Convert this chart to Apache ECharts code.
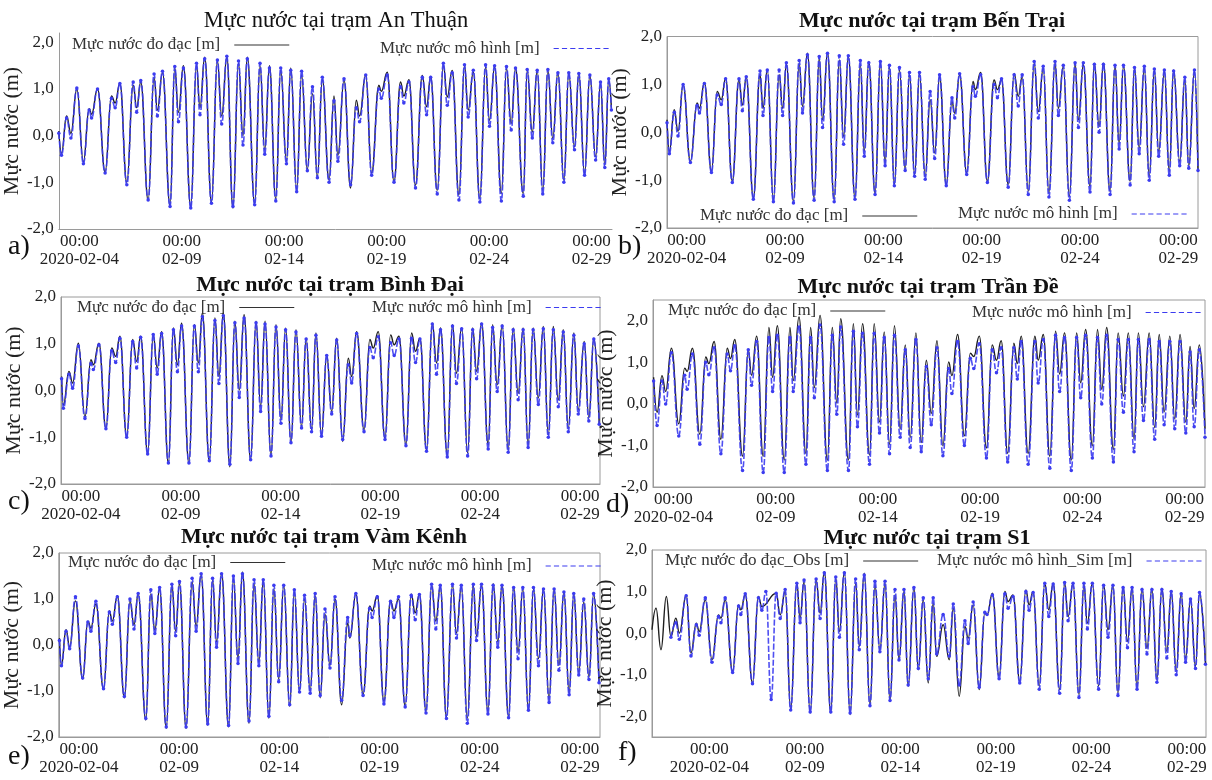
<!DOCTYPE html>
<html><head><meta charset="utf-8">
<script src="https://cdn.jsdelivr.net/npm/echarts@6/dist/echarts.min.js"></script>
<style>html,body{margin:0;padding:0;background:#fff}#c{width:1212px;height:780px}</style>
</head><body><div id="c"></div>
<script>
// ---------- DATA (time = decimal day of February 2020; values in m) ----------
const xTickDays = [4, 9, 14, 19, 24, 29];
const xTickLabels = ['00:00\n2020-02-04', '00:00\n02-09', '00:00\n02-14', '00:00\n02-19', '00:00\n02-24', '00:00\n02-29'];
const yTickValues = [-2, -1, 0, 1, 2];

// a) An Thuận
const aTime = [3.0,3.13,3.38,3.59,3.88,4.2,4.48,4.6,4.89,5.26,5.57,5.75,5.98,6.32,6.63,6.8,7.0,7.36,7.65,7.81,8.06,8.43,8.66,8.84,9.08,9.44,9.72,9.89,10.12,10.45,10.74,10.95,11.2,11.5,11.77,11.99,12.2,12.56,12.82,13.05,13.28,13.59,13.83,14.11,14.32,14.61,14.85,15.13,15.38,15.62,15.86,16.19,16.43,16.62,16.92,17.24,17.52,17.68,17.98,18.27,18.62,18.74,19.03,19.36,19.68,19.84,20.09,20.41,20.74,20.95,21.15,21.47,21.77,21.96,22.2,22.53,22.8,22.98,23.23,23.55,23.83,24.02,24.27,24.6,24.85,25.08,25.29,25.67,25.86,26.11,26.35,26.62,26.87,27.11,27.36,27.65,27.89,28.17,28.38,28.66,28.92,29.2,29.44,29.65,29.84,29.97];
const aObs = [0.1,-0.38,0.42,0.05,1.0,-0.56,0.58,0.46,1.0,-0.78,0.85,0.7,1.12,-1.0,1.08,0.6,1.15,-1.38,1.25,0.55,1.35,-1.5,1.45,0.5,1.5,-1.52,1.5,0.6,1.68,-1.42,1.6,0.42,1.68,-1.55,1.55,0.0,1.68,-1.45,1.5,-0.3,1.5,-1.35,1.4,-0.55,1.45,-1.15,1.3,-0.72,0.9,-0.88,1.2,-0.95,0.85,-0.42,1.19,-1.12,0.76,0.42,1.3,-0.8,1.08,0.95,1.36,-0.98,1.15,0.85,1.2,-1.06,1.29,0.62,1.27,-1.17,1.5,0.83,1.4,-1.27,1.5,0.55,1.36,-1.34,1.47,0.33,1.47,-1.24,1.44,0.26,1.44,-1.24,1.4,0.08,1.39,-1.17,1.39,-0.06,1.36,-0.95,1.33,-0.24,1.35,-0.81,1.29,-0.45,1.11,-0.63,1.2,0.6];
const aSim = [0.05,-0.42,0.38,-0.05,1.02,-0.6,0.55,0.38,1.0,-0.8,0.8,0.6,1.12,-1.05,1.15,0.5,1.18,-1.38,1.32,0.42,1.38,-1.52,1.48,0.3,1.45,-1.55,1.55,0.45,1.65,-1.45,1.62,0.25,1.7,-1.52,1.6,-0.2,1.65,-1.48,1.55,-0.4,1.45,-1.4,1.45,-0.6,1.4,-1.2,1.38,-0.75,1.05,-0.9,1.25,-1.0,0.75,-0.55,1.22,-1.05,0.6,0.3,1.3,-0.85,1.0,0.8,1.3,-1.0,1.05,0.7,1.15,-1.12,1.25,0.45,1.25,-1.25,1.55,0.65,1.35,-1.38,1.52,0.4,1.4,-1.42,1.52,0.2,1.5,-1.4,1.48,0.12,1.45,-1.3,1.42,-0.05,1.4,-1.25,1.42,-0.15,1.35,-1.0,1.35,-0.3,1.33,-0.85,1.3,-0.52,1.15,-0.68,1.22,0.55];

// b) Bến Trại
const bTime = [3.0,3.12,3.37,3.56,3.82,4.19,4.53,4.65,4.9,5.26,5.55,5.76,5.98,6.32,6.66,6.83,7.03,7.39,7.73,7.88,8.1,8.41,8.7,8.88,9.07,9.43,9.72,9.89,10.14,10.48,10.74,10.91,11.16,11.5,11.76,11.98,12.22,12.56,12.83,13.03,13.26,13.58,13.85,14.09,14.31,14.56,14.82,15.11,15.33,15.59,15.84,16.13,16.38,16.61,16.86,17.2,17.49,17.63,17.88,18.24,18.56,18.68,18.95,19.29,19.63,19.8,20.01,20.35,20.65,20.86,21.06,21.37,21.67,21.88,22.13,22.42,22.73,22.9,23.15,23.46,23.75,23.92,24.17,24.51,24.73,24.97,25.19,25.53,25.78,25.99,26.21,26.55,26.77,27.01,27.27,27.52,27.78,28.0,28.29,28.54,28.76,29.07,29.33,29.53,29.82,30.0];
const bObs = [0.26,-0.4,0.47,0.02,0.99,-0.61,0.61,0.5,1.04,-0.82,0.85,0.68,1.13,-1.02,1.09,0.57,1.15,-1.37,1.2,0.5,1.3,-1.41,1.2,0.5,1.41,-1.44,1.44,0.54,1.65,-1.37,1.55,0.26,1.66,-1.41,1.51,-0.09,1.58,-1.37,1.41,-0.4,1.48,-1.27,1.44,-0.64,1.37,-1.09,1.3,-0.78,1.2,-0.89,1.23,-0.92,0.68,-0.43,1.16,-1.09,0.64,0.4,1.2,-0.85,1.06,0.89,1.25,-1.02,1.09,0.89,1.09,-1.09,1.23,0.75,1.16,-1.23,1.44,0.43,1.34,-1.27,1.44,0.5,1.37,-1.34,1.44,0.26,1.41,-1.13,1.44,0.12,1.44,-1.23,1.41,-0.23,1.37,-1.02,1.34,-0.33,1.34,-0.92,1.3,-0.4,1.27,-0.82,1.3,-0.61,1.09,-0.71,1.27,-0.78];
const bSim = [0.2,-0.45,0.42,-0.08,1.0,-0.63,0.56,0.4,1.02,-0.84,0.78,0.58,1.12,-1.05,1.12,0.45,1.16,-1.4,1.28,0.35,1.3,-1.45,1.3,0.35,1.45,-1.48,1.5,0.4,1.62,-1.42,1.58,0.1,1.65,-1.45,1.6,-0.25,1.6,-1.4,1.5,-0.5,1.45,-1.3,1.48,-0.7,1.4,-1.12,1.35,-0.8,1.25,-0.92,1.25,-0.98,0.85,-0.55,1.2,-1.12,0.72,0.3,1.22,-0.88,0.95,0.75,1.2,-1.05,1.0,0.72,1.12,-1.15,1.2,0.55,1.2,-1.3,1.48,0.3,1.38,-1.35,1.48,0.35,1.4,-1.42,1.45,0.1,1.45,-1.25,1.42,0.0,1.42,-1.3,1.4,-0.35,1.4,-1.1,1.35,-0.45,1.38,-1.0,1.32,-0.5,1.3,-0.9,1.28,-0.7,1.15,-0.75,1.3,-0.8];

// c) Bình Đại
const cTime = [3.03,3.12,3.4,3.58,3.87,4.2,4.5,4.62,4.9,5.25,5.54,5.74,5.95,6.29,6.59,6.79,6.99,7.34,7.62,7.82,8.04,8.38,8.63,8.83,9.04,9.41,9.68,9.88,10.08,10.43,10.71,10.91,11.13,11.46,11.71,11.93,12.17,12.5,12.77,13.0,13.22,13.52,13.77,14.02,14.25,14.52,14.77,15.05,15.28,15.55,15.77,16.05,16.31,16.56,16.81,17.11,17.39,17.56,17.81,18.18,18.47,18.64,18.89,19.23,19.51,19.69,19.93,20.28,20.56,20.76,20.98,21.31,21.6,21.81,22.01,22.35,22.61,22.81,23.07,23.37,23.62,23.82,24.07,24.4,24.62,24.85,25.1,25.4,25.65,25.9,26.15,26.4,26.65,26.91,27.16,27.41,27.66,27.91,28.16,28.41,28.69,28.91,29.21,29.44,29.69,29.96];
const cObs = [0.3,-0.31,0.41,0.16,1.01,-0.56,0.66,0.55,1.01,-0.81,0.91,0.73,1.16,-0.99,1.09,0.62,1.16,-1.34,1.19,0.48,1.26,-1.56,1.34,0.55,1.44,-1.56,1.41,0.59,1.66,-1.52,1.55,0.3,1.66,-1.63,1.48,0.01,1.62,-1.49,1.48,-0.34,1.48,-1.41,1.41,-0.63,1.34,-1.13,1.3,-0.77,1.12,-0.84,1.23,-0.95,0.76,-0.45,1.12,-1.09,0.69,0.3,1.26,-0.84,1.09,0.91,1.26,-1.02,1.19,0.98,1.16,-1.16,1.23,0.84,1.12,-1.27,1.44,0.59,1.34,-1.38,1.41,0.37,1.34,-1.34,1.34,0.41,1.44,-1.16,1.41,0.12,1.41,-1.27,1.34,-0.06,1.34,-1.16,1.34,-0.16,1.37,-0.95,1.37,-0.2,1.3,-0.81,1.23,-0.41,1.05,-0.59,1.12,-0.7];
const cSim = [0.25,-0.38,0.35,0.05,0.95,-0.6,0.58,0.45,0.98,-0.82,0.85,0.6,1.12,-1.0,1.05,0.48,1.14,-1.36,1.2,0.35,1.22,-1.55,1.3,0.4,1.38,-1.55,1.38,0.4,1.58,-1.5,1.5,0.15,1.6,-1.58,1.45,-0.15,1.55,-1.48,1.45,-0.45,1.42,-1.4,1.36,-0.7,1.3,-1.12,1.25,-0.8,1.1,-0.88,1.18,-0.98,0.75,-0.5,1.08,-1.05,0.55,0.16,1.22,-0.88,0.92,0.7,1.15,-1.05,1.02,0.75,1.1,-1.18,1.12,0.6,1.1,-1.3,1.42,0.35,1.3,-1.42,1.38,0.15,1.32,-1.4,1.3,0.25,1.42,-1.25,1.35,-0.02,1.38,-1.32,1.3,-0.2,1.3,-1.22,1.3,-0.3,1.32,-1.0,1.3,-0.35,1.25,-0.88,1.18,-0.5,1.0,-0.65,1.1,-0.72];

// d) Trần Đề
const dTime = [3.03,3.2,3.44,3.62,3.9,4.26,4.55,4.67,4.93,5.29,5.58,5.73,5.99,6.32,6.63,6.79,7.0,7.38,7.66,7.82,8.07,8.39,8.67,8.85,9.08,9.42,9.7,9.86,10.14,10.48,10.71,10.89,11.17,11.53,11.77,11.99,12.18,12.56,12.8,13.0,13.25,13.59,13.82,14.08,14.31,14.57,14.81,15.09,15.34,15.58,15.86,16.12,16.37,16.61,16.89,17.18,17.46,17.62,17.9,18.23,18.52,18.69,18.96,19.31,19.59,19.8,20.03,20.35,20.65,20.82,21.01,21.35,21.68,21.84,22.09,22.41,22.69,22.89,23.13,23.46,23.72,23.92,24.16,24.49,24.74,24.95,25.19,25.52,25.75,26.01,26.25,26.53,26.74,26.99,27.27,27.54,27.76,28.0,28.28,28.52,28.78,29.06,29.27,29.47,29.72,30.0];
const dObs = [0.64,-0.2,0.68,0.3,1.34,-0.48,0.86,0.78,1.34,-0.73,1.13,0.97,1.5,-0.85,1.34,1.09,1.55,-1.26,1.3,0.69,1.63,-1.26,1.84,0.64,1.88,-1.35,1.84,0.56,2.09,-1.19,1.84,0.39,2.13,-1.35,1.84,0.02,2.05,-1.35,1.93,-0.27,1.93,-1.23,1.93,-0.44,1.73,-0.98,1.88,-0.6,1.42,-0.81,1.71,-0.93,1.05,-0.23,1.52,-1.01,1.01,0.68,1.67,-0.77,1.22,1.14,1.63,-1.06,1.42,1.05,1.52,-1.19,1.46,0.97,1.63,-1.19,1.63,1.05,1.67,-1.26,1.75,0.72,1.71,-1.35,1.71,0.51,1.79,-1.01,1.79,0.35,1.84,-1.1,1.71,0.19,1.71,-0.85,1.71,-0.07,1.71,-0.57,1.67,-0.19,1.63,-0.36,1.67,-0.44,1.38,-0.11,1.42,-0.6];
const dSim = [0.55,-0.52,0.55,0.0,1.23,-0.77,0.69,0.35,1.2,-0.97,1.0,0.7,1.35,-1.2,1.2,0.8,1.4,-1.6,1.3,0.45,1.5,-1.65,1.6,0.3,1.65,-1.65,1.6,0.3,1.85,-1.45,1.6,0.15,1.9,-1.6,1.65,-0.25,1.85,-1.6,1.75,-0.55,1.7,-1.45,1.7,-0.7,1.6,-1.2,1.65,-0.8,1.3,-1.05,1.55,-1.15,0.9,-0.5,1.35,-1.25,0.85,0.25,1.5,-1.0,1.1,0.85,1.45,-1.3,1.3,0.75,1.35,-1.4,1.35,0.6,1.5,-1.45,1.5,0.5,1.55,-1.55,1.65,0.3,1.6,-1.6,1.6,0.15,1.65,-1.3,1.6,0.0,1.65,-1.4,1.55,-0.2,1.55,-1.15,1.55,-0.4,1.55,-0.85,1.5,-0.5,1.5,-0.6,1.5,-0.7,1.25,-0.55,1.3,-0.8];

// e) Vàm Kênh
const eTime = [3.03,3.13,3.36,3.54,3.83,4.19,4.45,4.6,4.85,5.23,5.52,5.67,5.92,6.27,6.55,6.75,6.96,7.34,7.59,7.79,8.03,8.36,8.64,8.83,9.02,9.35,9.65,9.85,10.1,10.43,10.67,10.87,11.12,11.47,11.71,11.94,12.16,12.49,12.74,12.98,13.2,13.48,13.73,13.97,14.22,14.52,14.75,15.01,15.26,15.54,15.79,16.04,16.28,16.53,16.78,17.11,17.41,17.52,17.82,18.18,18.51,18.63,18.89,19.22,19.55,19.72,19.95,20.28,20.58,20.78,20.99,21.32,21.6,21.81,22.03,22.34,22.64,22.84,23.08,23.38,23.68,23.84,24.09,24.41,24.67,24.9,25.11,25.44,25.69,25.91,26.15,26.43,26.68,26.93,27.18,27.46,27.71,27.95,28.2,28.46,28.69,28.94,29.19,29.45,29.68,29.95];
const eObs = [0.15,-0.44,0.33,-0.04,0.96,-0.74,0.52,0.37,0.89,-0.96,0.74,0.52,1.07,-1.15,0.96,0.44,1.11,-1.63,1.11,0.33,1.22,-1.81,1.3,0.3,1.33,-1.81,1.37,0.41,1.52,-1.74,1.41,0.07,1.56,-1.78,1.44,-0.3,1.59,-1.7,1.33,-0.37,1.41,-1.59,1.22,-0.74,1.3,-1.33,1.15,-1.0,1.0,-1.0,1.07,-1.15,0.67,-0.44,1.0,-1.3,0.48,0.15,1.11,-1.07,0.85,0.74,1.07,-1.22,0.96,0.74,1.0,-1.33,1.11,0.7,1.11,-1.44,1.3,0.52,1.26,-1.56,1.3,0.26,1.26,-1.59,1.3,0.19,1.3,-1.44,1.33,0.07,1.3,-1.56,1.26,-0.15,1.22,-1.41,1.22,-0.3,1.22,-1.19,1.22,-0.44,1.15,-1.04,1.11,-0.59,0.93,-0.7,1.11,-0.81];
const eSim = [0.1,-0.45,0.3,-0.08,1.05,-0.72,0.5,0.3,0.95,-0.95,0.72,0.45,1.05,-1.12,1.0,0.35,1.12,-1.6,1.2,0.25,1.25,-1.78,1.32,0.2,1.38,-1.78,1.45,0.3,1.55,-1.72,1.45,-0.05,1.55,-1.75,1.5,-0.4,1.55,-1.65,1.42,-0.45,1.42,-1.55,1.3,-0.8,1.3,-1.3,1.2,-1.02,1.08,-1.05,1.12,-1.1,0.78,-0.5,1.05,-1.2,0.6,0.2,1.12,-1.1,0.8,0.6,1.05,-1.28,0.95,0.6,1.05,-1.35,1.08,0.55,1.1,-1.48,1.32,0.35,1.3,-1.6,1.32,0.15,1.3,-1.7,1.32,0.1,1.32,-1.5,1.3,-0.05,1.3,-1.58,1.25,-0.3,1.25,-1.42,1.25,-0.45,1.22,-1.25,1.22,-0.55,1.15,-1.08,1.12,-0.65,1.0,-0.75,1.12,-0.82];

// f) S1
const fTime = [1.0,1.21,1.47,1.75,1.99,2.25,2.43,2.79,3.04,3.32,3.47,3.79,4.14,4.48,4.61,4.83,5.22,5.53,5.65,5.88,6.26,6.57,6.75,6.96,7.24,7.5,7.71,7.97,8.26,8.58,8.75,8.96,9.28,9.59,9.8,10.02,10.36,10.62,10.81,11.07,11.37,11.66,11.85,12.11,12.41,12.67,12.93,13.2,13.46,13.72,13.93,14.19,14.41,14.71,14.94,15.2,15.46,15.72,15.9,16.24,16.56,16.77,17.08,17.38,17.55,17.81,18.13,18.42,18.54,18.82,19.17,19.47,19.64,19.9,20.25,20.57,20.74,20.95,21.27,21.56,21.77,22.0,22.34,22.6,22.78,23.04,23.35,23.61,23.79,24.05,24.38,24.64,24.87,25.13,25.39,25.66,25.89,26.13,26.39,26.65,26.91,27.17,27.43,27.69,27.95,28.18,28.44,28.7,28.93,29.19,29.45,29.66,29.97];
const fObs = [0.08,0.6,-0.4,0.88,-0.08,0.36,0.0,0.92,-0.48,0.24,0.04,0.8,-0.64,0.44,0.36,0.8,-0.92,0.68,0.56,0.92,-1.2,0.88,0.64,null,null,0.96,0.44,1.0,-1.84,1.2,0.36,1.24,-1.92,1.28,0.48,1.48,-1.92,1.32,0.04,1.48,-1.96,1.2,-0.32,1.44,-1.76,1.16,-0.4,1.2,-1.64,0.92,-0.64,1.0,-1.28,1.08,-0.88,0.8,-1.2,0.72,-0.56,0.2,-0.64,0.6,-1.52,0.16,-0.12,0.68,-1.36,0.48,0.44,0.96,-1.04,1.0,0.76,0.92,-1.16,1.04,0.68,1.0,-1.28,1.2,0.56,1.2,-1.36,1.2,0.4,1.2,-1.48,1.16,0.24,1.2,-1.28,1.16,0.08,1.16,-1.44,1.12,-0.2,1.08,-1.32,1.08,-0.36,1.08,-1.12,1.08,-0.44,1.0,-0.92,0.96,-0.6,0.8,-0.8,0.96,-0.72];
const fSim = [null,null,null,null,-0.1,0.25,-0.15,0.9,-0.55,0.2,-0.05,0.85,-0.7,0.4,0.25,0.85,-0.95,0.65,0.45,0.95,-1.22,0.85,0.55,1.0,-1.6,0.96,0.35,1.05,-1.85,1.2,0.25,1.28,-1.9,1.3,0.35,1.45,-1.9,1.35,-0.1,1.45,-1.92,1.3,-0.4,1.4,-1.75,1.25,-0.45,1.25,-1.62,1.05,-0.65,1.05,-1.25,1.1,-0.85,0.85,-1.1,0.85,-0.5,0.45,-0.55,0.7,-1.25,0.3,-0.25,0.75,-1.3,0.5,0.45,0.92,-1.1,0.95,0.6,0.88,-1.2,1.0,0.55,0.98,-1.35,1.2,0.4,1.18,-1.45,1.22,0.3,1.2,-1.55,1.2,0.1,1.2,-1.35,1.15,-0.1,1.15,-1.5,1.1,-0.35,1.1,-1.35,1.05,-0.5,1.05,-1.18,1.05,-0.6,1.0,-1.0,0.95,-0.7,0.82,-0.85,0.98,-0.75];

// ---------- LAYOUT / STYLE ----------
const SERIF = '"Liberation Serif","Times New Roman",serif';
const OBS_COLOR = '#1e1e1e';
const SIM_COLOR = '#3c3cf0';
const AXIS_COLOR = '#9a9a9a';
const ICON_SOLID = 'path://M0,0H55V1H0Z';
const ICON_DASHED = 'path://M0,0H5V1H0Z M8,0H13V1H8Z M16,0H21V1H16Z M24,0H29V1H24Z M32,0H37V1H32Z M40,0H45V1H40Z M48,0H53V1H48Z';

const panels = [
  {key:'a', title:'Mực nước tại trạm An Thuận', bold:false, time:aTime, obs:aObs, sim:aSim,
   obsName:'Mực nước đo đạc [m]', simName:'Mực nước mô hình [m]',
   grid:{left:58, top:33, width:554, height:196}, x:[3,30], y:[-2,2.2], border:false,
   tx:336, ty:21, lx:8, ly:247, l1:[72,36.5], l2:[380,40]},
  {key:'b', title:'Mực nước tại trạm Bến Trại', bold:true, time:bTime, obs:bObs, sim:bSim,
   obsName:'Mực nước đo đạc [m]', simName:'Mực nước mô hình [m]',
   grid:{left:667, top:36.5, width:531, height:191.5}, x:[3,30], y:[-2,2], border:true,
   tx:932, ty:21, lx:618, ly:247, l1:[700,207.5], l2:[958,205.5]},
  {key:'c', title:'Mực nước tại trạm Bình Đại', bold:true, time:cTime, obs:cObs, sim:cSim,
   obsName:'Mực nước đo đạc [m]', simName:'Mực nước mô hình [m]',
   grid:{left:61, top:297, width:539, height:187}, x:[3,30], y:[-2,2], border:true,
   tx:330, ty:285, lx:8, ly:502, l1:[77,299], l2:[372,299]},
  {key:'d', title:'Mực nước tại trạm Trần Đề', bold:true, time:dTime, obs:dObs, sim:dSim,
   obsName:'Mực nước đo đạc [m]', simName:'Mực nước mô hình [m]',
   grid:{left:653, top:300, width:552, height:187}, x:[3,30], y:[-2,2.5], border:true,
   tx:928, ty:287, lx:606, ly:505, l1:[668,302.5], l2:[972,304]},
  {key:'e', title:'Mực nước tại trạm Vàm Kênh', bold:true, time:eTime, obs:eObs, sim:eSim,
   obsName:'Mực nước đo đạc [m]', simName:'Mực nước mô hình [m]',
   grid:{left:55, top:553, width:545, height:184}, x:[3,30], y:[-2,2], border:true,
   tx:324, ty:537, lx:8, ly:757, l1:[68,554], l2:[372,557.5]},
  {key:'f', title:'Mực nước tại trạm S1', bold:true, time:fTime, obs:fObs, sim:fSim,
   obsName:'Mực nước đo đạc_Obs [m]', simName:'Mực nước mô hình_Sim [m]',
   grid:{left:652, top:550, width:554, height:187}, x:[1,30], y:[-2.5,2], border:true,
   tx:927, ty:538, lx:618, ly:753, l1:[665,552.5], l2:[937,552.5]}
];

function pairs(t, v) { return t.map((x, i) => [x, v[i] === null ? null : v[i]]); }
function fmtY(v) { return Number.isInteger(v) ? v.toFixed(1).replace('.', ',') : ''; }
function fmtX(v) { const i = xTickDays.indexOf(Math.round(v)); return i >= 0 ? xTickLabels[i] : ''; }

const grids = [], xAxes = [], yAxes = [], series = [], legends = [], graphics = [];
panels.forEach((p, i) => {
  grids.push(Object.assign({show: p.border, borderColor: AXIS_COLOR, borderWidth: 1, backgroundColor: 'transparent'}, p.grid));
  xAxes.push({type:'value', gridIndex:i, min:p.x[0], max:p.x[1],
    axisLine:{show:true, onZero:false, lineStyle:{color:AXIS_COLOR, width:1}},
    axisTick:{show:false, customValues:xTickDays},
    splitLine:{show:false},
    axisLabel:{customValues:xTickDays, formatter:fmtX, fontFamily:SERIF, fontSize:17, lineHeight:18, color:'#222', margin:4}});
  yAxes.push({type:'value', gridIndex:i, min:p.y[0], max:p.y[1],
    name:'Mực nước (m)', nameLocation:'middle', nameGap:24,
    nameTextStyle:{fontFamily:SERIF, fontSize:22, color:'#222'},
    axisLine:{show:true, onZero:false, lineStyle:{color:AXIS_COLOR, width:1}},
    axisTick:{show:false, customValues:yTickValues},
    splitLine:{show:false},
    axisLabel:{customValues:yTickValues, formatter:fmtY, fontFamily:SERIF, fontSize:17, color:'#222', margin:5}});
  series.push({type:'line', name:p.obsName, xAxisIndex:i, yAxisIndex:i, data:pairs(p.time, p.obs),
    smooth:0.45, smoothMonotone:'x', symbol:'none', connectNulls:true,
    lineStyle:{color:OBS_COLOR, width:1.4}, itemStyle:{color:OBS_COLOR}, z:2});
  series.push({type:'line', name:p.simName, xAxisIndex:i, yAxisIndex:i, data:pairs(p.time, p.sim),
    smooth:0.45, smoothMonotone:'x', symbol:'circle', symbolSize:3.5, showSymbol:true, connectNulls:false,
    lineStyle:{color:SIM_COLOR, width:1.6, type:[6,2], opacity:0.9}, itemStyle:{color:SIM_COLOR}, z:3});
  const legBase = {orient:'horizontal', align:'right', itemWidth:55, itemHeight:2, selectedMode:false,
    padding:0, textStyle:{fontFamily:SERIF, fontSize:17, color:'#333', padding:[0,9,0,0]}};
  legends.push(Object.assign({}, legBase, {data:[{name:p.obsName, icon:ICON_SOLID, itemStyle:{color:'#333333'}}], left:p.l1[0], top:p.l1[1]}));
  legends.push(Object.assign({}, legBase, {data:[{name:p.simName, icon:ICON_DASHED, itemStyle:{color:'#3c3cf0'}}], left:p.l2[0], top:p.l2[1]}));
  graphics.push({type:'text', x:p.tx, y:p.ty, style:{text:p.title,
    font:(p.bold ? 'bold ' : '') + (p.bold ? '22px ' : '22.5px ') + SERIF, fill:'#111',
    align:'center', verticalAlign:'middle', textAlign:'center', textVerticalAlign:'middle'}});
  graphics.push({type:'text', x:p.lx, y:p.ly, style:{text:p.key + ')',
    font:'28px ' + SERIF, fill:'#111',
    align:'left', verticalAlign:'middle', textAlign:'left', textVerticalAlign:'middle'}});
});

const chart = echarts.init(document.getElementById('c'), null, {renderer:'canvas'});
chart.setOption({
  backgroundColor:'#ffffff',
  animation:false,
  grid:grids, xAxis:xAxes, yAxis:yAxes, series:series, legend:legends, graphic:graphics
});
</script>
</body></html>
